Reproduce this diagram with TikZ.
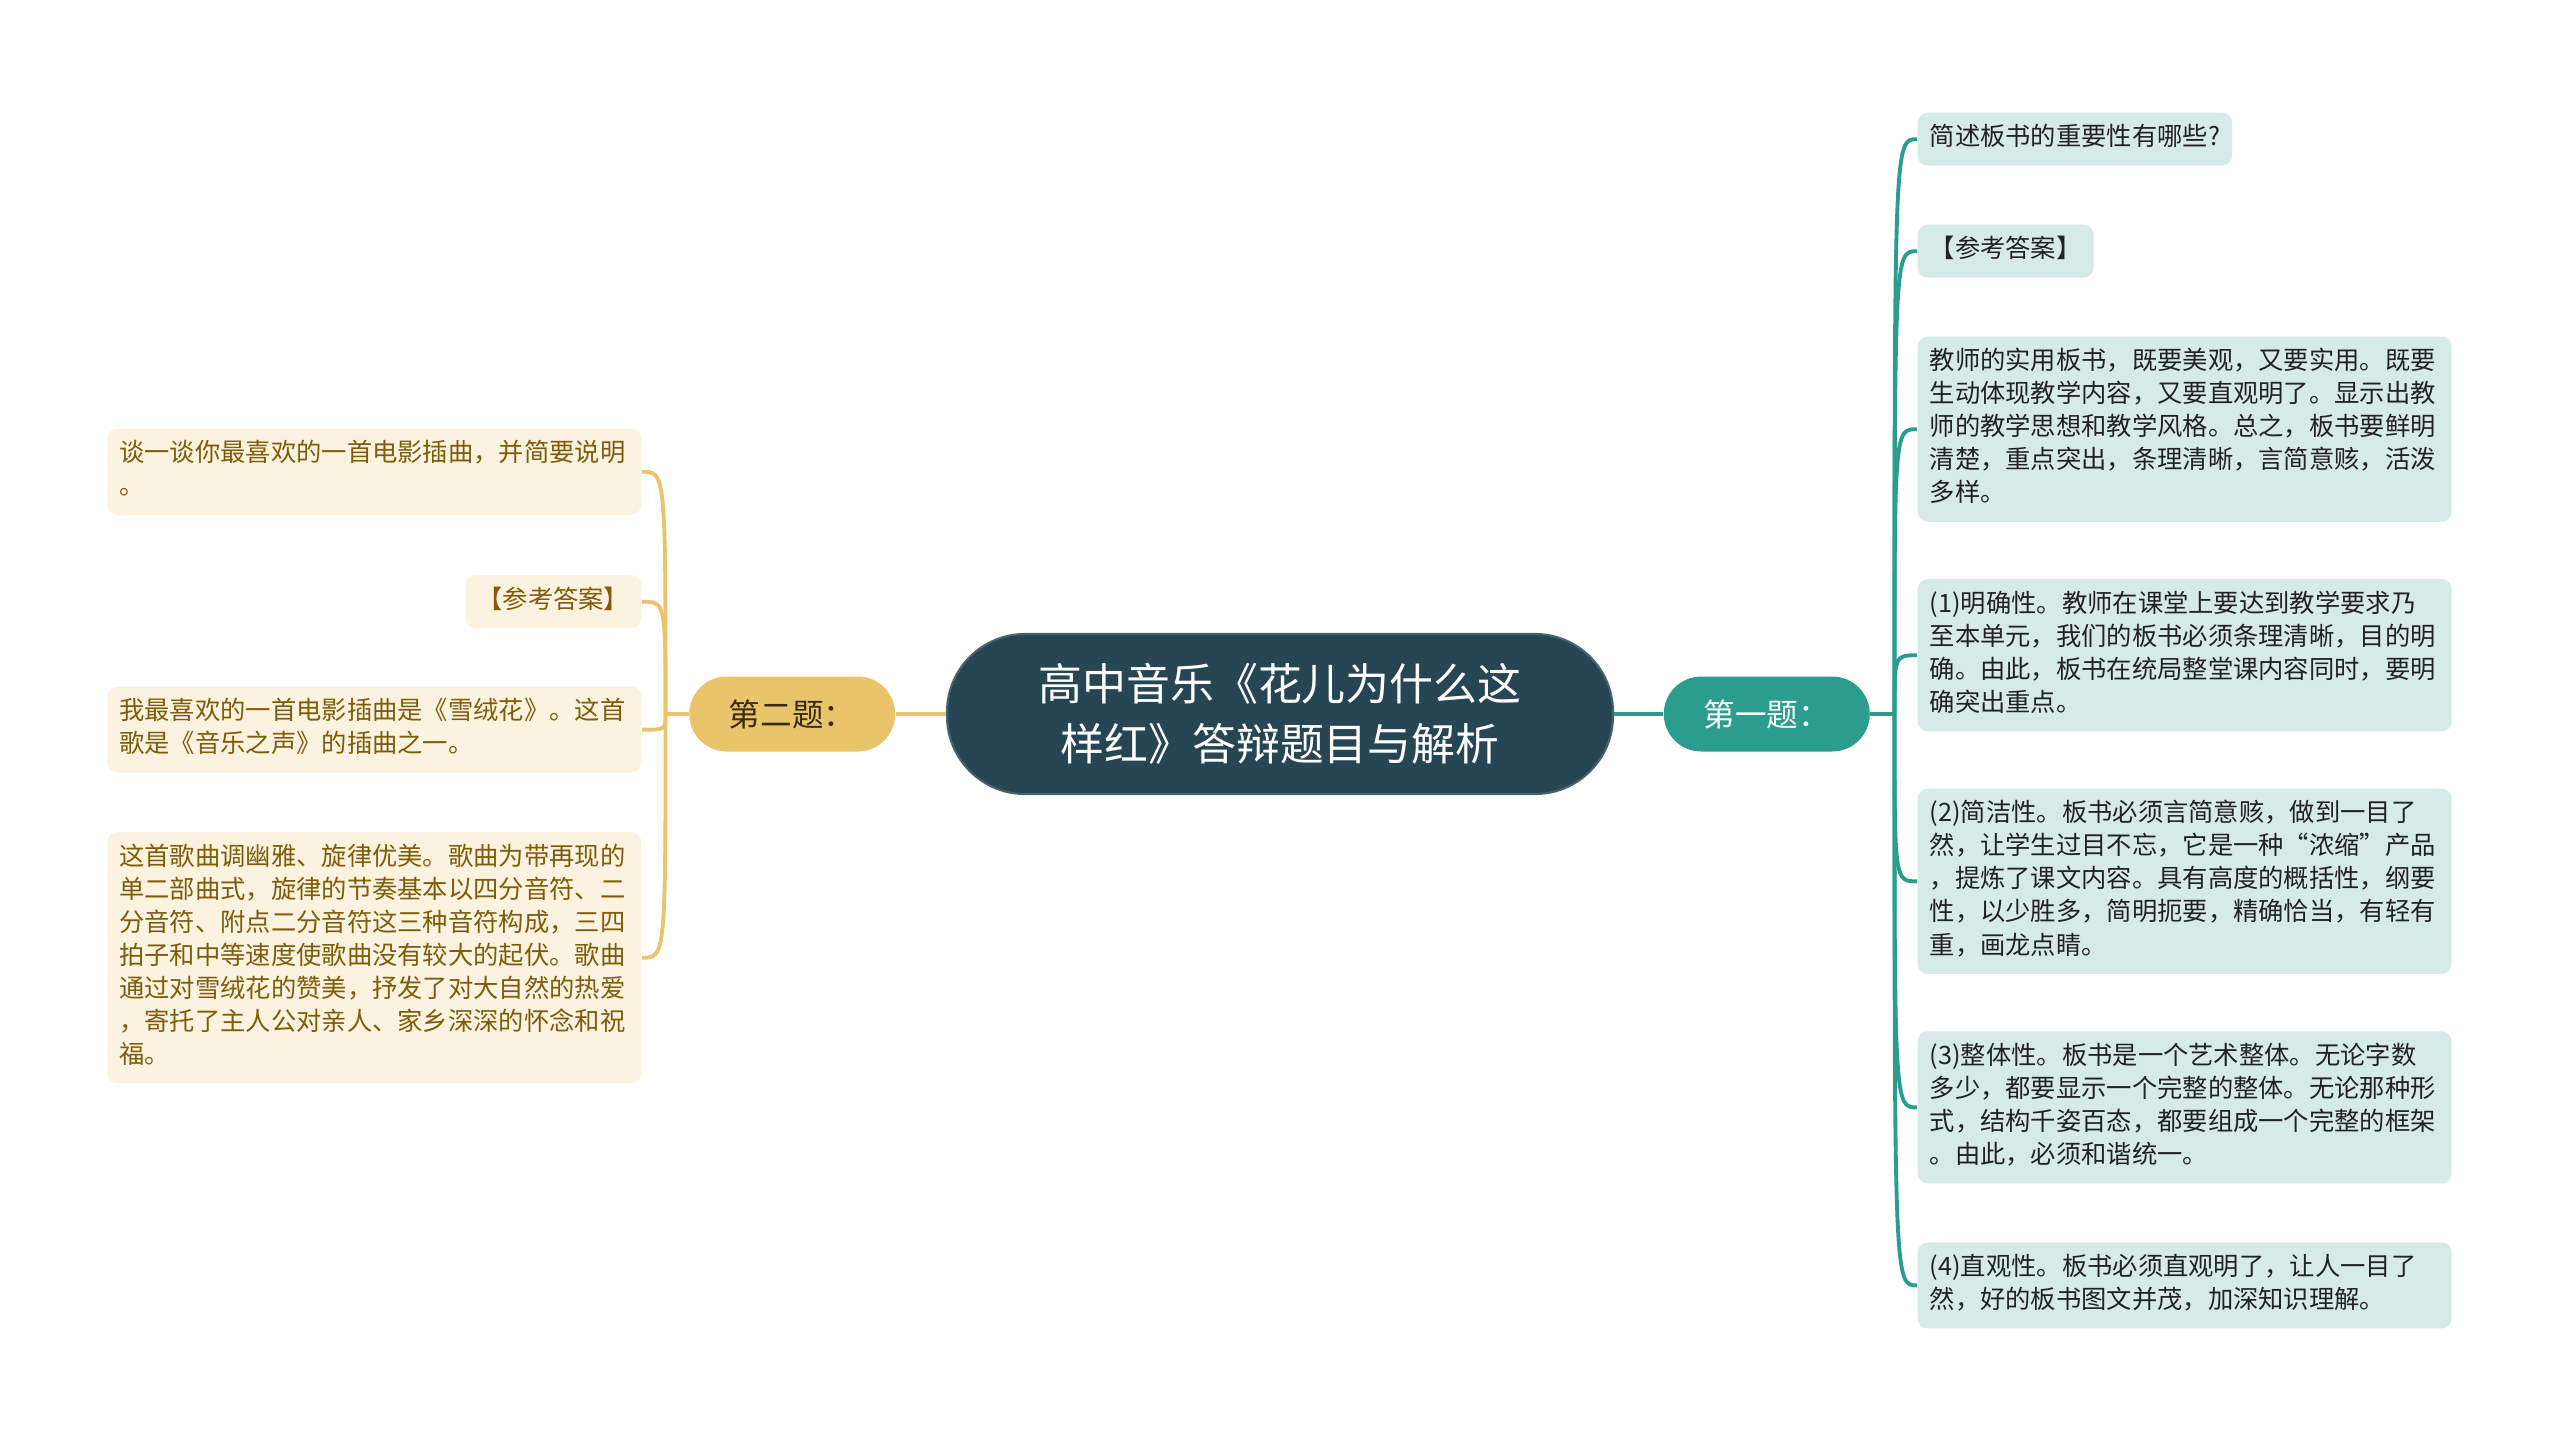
\documentclass[tikz,border=0pt]{standalone}
\usepackage{fontspec}
\setmainfont{Noto Sans CJK SC}
\usetikzlibrary{positioning}
\XeTeXlinebreaklocale "zh"
\definecolor{deepsea}{HTML}{264653}
\definecolor{tealtopic}{HTML}{2A9D8F}
\definecolor{sandtopic}{HTML}{E9C46A}
\definecolor{tealleaf}{HTML}{D6EBE8}
\definecolor{sandleaf}{HTML}{FBF3E0}
\definecolor{sandink}{HTML}{7E5C0A}
\definecolor{topicink}{HTML}{3A2C0C}
\definecolor{leafink}{HTML}{222222}

\tikzset{
  rootbox/.style={fill=deepsea, draw=deepsea!85!white, line width=0.6pt, text=white, rounded corners=0.78cm,
    minimum width=6.66cm, minimum height=1.6cm, align=center, font=\fontsize{12.5}{17}\selectfont},
  topic/.style={rounded corners=0.375cm, minimum width=2.06cm, minimum height=0.75cm,
    font=\fontsize{9}{11}\selectfont},
  leaf/.style={rounded corners=0.1cm, inner xsep=0.12cm, inner ysep=0.1cm, align=left,
    font=\fontsize{7.2}{9.4}\selectfont, execute at begin node=\strut, execute at end node=\strut},
  rleaf/.style={leaf, fill=tealleaf, text=leafink},
  lleaf/.style={leaf, fill=sandleaf, text=sandink},
  wide/.style={text width=5.1cm},
  rline/.style={draw=tealtopic, line width=1.1pt},
  lline/.style={draw=sandtopic, line width=1.1pt}
}

\begin{document}
\begin{tikzpicture}
	\useasboundingbox (0,0) rectangle (25.6,-14.43);

	\node(title) [rootbox] at (12.80,-7.14) {高中音乐《花儿为什么这\\样红》答辩题目与解析};

	\node(first) [topic, fill=tealtopic, text=white, right=0.49cm of title] {第一题：};
	\node(second) [topic, fill=sandtopic, text=topicink, left=0.50cm of title] {第二题：};

	\coordinate[right=0.24cm of first] (firsthub);
	\coordinate[left=0.23cm of second] (secondhub);

	%----------------------------------------------------------------
	\node(ask) [rleaf, anchor=north west] at (19.17,-1.12) {简述板书的重要性有哪些?};
	\node(ans) [rleaf, below=0.575cm of ask.south west, anchor=north west] {【参考答案】};
	\node(summary) [rleaf, wide, below=0.575cm of ans.south west, anchor=north west] {教师的实用板书，既要美观，又要实用。既要\\
		生动体现教学内容，又要直观明了。显示出教\\
		师的教学思想和教学风格。总之，板书要鲜明\\
		清楚，重点突出，条理清晰，言简意赅，活泼\\
		多样。};
	\node(clarity) [rleaf, wide, below=0.56cm of summary.south west, anchor=north west] {(1)明确性。教师在课堂上要达到教学要求乃\\
		至本单元，我们的板书必须条理清晰，目的明\\
		确。由此，板书在统局整堂课内容同时，要明\\
		确突出重点。};
	\node(brevity) [rleaf, wide, below=0.56cm of clarity.south west, anchor=north west] {(2)简洁性。板书必须言简意赅，做到一目了\\
		然，让学生过目不忘，它是一种“浓缩”产品\\
		，提炼了课文内容。具有高度的概括性，纲要\\
		性，以少胜多，简明扼要，精确恰当，有轻有\\
		重，画龙点睛。};
	\node(unity) [rleaf, wide, below=0.56cm of brevity.south west, anchor=north west] {(3)整体性。板书是一个艺术整体。无论字数\\
		多少，都要显示一个完整的整体。无论那种形\\
		式，结构千姿百态，都要组成一个完整的框架\\
		。由此，必须和谐统一。};
	\node(intuit) [rleaf, wide, below=0.575cm of unity.south west, anchor=north west] {(4)直观性。板书必须直观明了，让人一目了\\
		然，好的板书图文并茂，加深知识理解。};

	%----------------------------------------------------------------
	\node(song) [lleaf, wide, anchor=north east] at (6.42,-4.28) {谈一谈你最喜欢的一首电影插曲，并简要说明\\
		。};
	\node(ref) [lleaf, below=0.59cm of song.south east, anchor=north east] {【参考答案】};
	\node(fav) [lleaf, wide, below=0.57cm of ref.south east, anchor=north east] {我最喜欢的一首电影插曲是《雪绒花》。这首\\
		歌是《音乐之声》的插曲之一。};
	\node(detail) [lleaf, wide, below=0.58cm of fav.south east, anchor=north east] {这首歌曲调幽雅、旋律优美。歌曲为带再现的\\
		单二部曲式，旋律的节奏基本以四分音符、二\\
		分音符、附点二分音符这三种音符构成，三四\\
		拍子和中等速度使歌曲没有较大的起伏。歌曲\\
		通过对雪绒花的赞美，抒发了对大自然的热爱\\
		，寄托了主人公对亲人、家乡深深的怀念和祝\\
		福。};

	%----------------------------------------------------------------
	\draw[rline] (title) -- (first);
	\draw[rline] (first) -- (firsthub);
	\foreach \leafname in {ask,ans,summary,clarity,brevity,unity,intuit}
		\draw[rline] (firsthub) .. controls (firsthub |- \leafname.west) .. (\leafname.west);

	\draw[lline] (title) -- (second);
	\draw[lline] (second) -- (secondhub);
	\foreach \leafname in {song,ref,fav,detail}
		\draw[lline] (secondhub) .. controls (secondhub |- \leafname.east) .. (\leafname.east);

\end{tikzpicture}
\end{document}
